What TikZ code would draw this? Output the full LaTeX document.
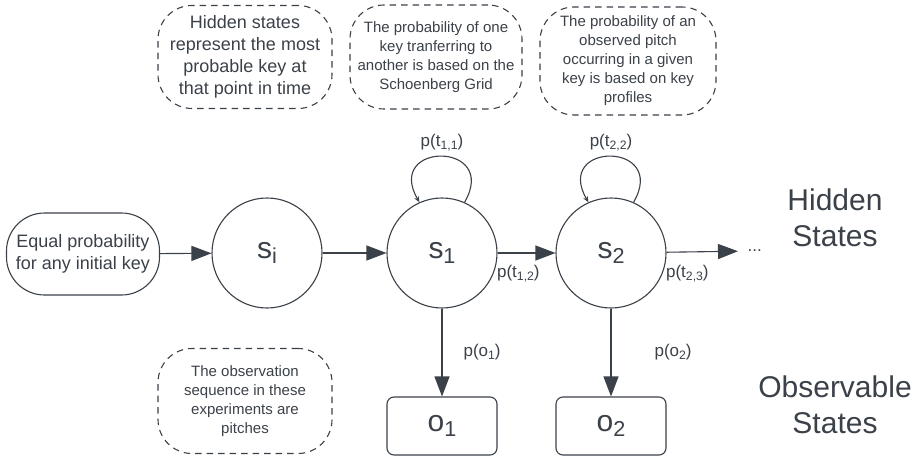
\documentclass[tikz,border=0pt]{standalone}
\usepackage{fontspec}
\setmainfont{Liberation Sans}
\usetikzlibrary{arrows.meta,positioning}
\definecolor{ink}{HTML}{3B4149}
\newcommand{\idx}[1]{\raisebox{-0.16em}{\scalebox{0.72}{#1}}}

\begin{document}
\begin{tikzpicture}[x=1pt, y=1pt, draw=ink, text=ink, line width=1.1pt,
  note/.style={draw, dash pattern=on 6.5pt off 5pt, rounded corners=34pt, align=center, inner sep=0pt},
  state/.style={draw, circle, minimum size=110pt, inner sep=0pt, font=\fontsize{30}{30}\selectfont},
  obs/.style={draw, rounded corners=7pt, minimum width=110pt, minimum height=58pt, inner sep=0pt, font=\fontsize{30}{30}\selectfont},
  lbl/.style={font=\fontsize{17}{17}\selectfont, inner sep=1pt},
  side/.style={align=center, font=\fontsize{30}{36}\selectfont},
  arr/.style={-{Triangle[length=20pt, width=15pt]}, fill=ink},
  loop/.style={-{Stealth[length=6pt, width=5pt]}}]
  \useasboundingbox (0,0) rectangle (920,456);

  % notes
  \node[note, minimum width=174pt, minimum height=103pt, font=\fontsize{18}{22}\selectfont] (hidnote) at (245,399)
    {Hidden states\\represent the most\\probable key at\\that point in time};
  \node[note, minimum width=172pt, minimum height=104pt, font=\fontsize{15}{19}\selectfont] (transnote) at (436,399)
    {The probability of one\\key tranferring to\\another is based on the\\Schoenberg Grid};
  \node[note, minimum width=176pt, minimum height=108pt, font=\fontsize{15}{19}\selectfont] (emitnote) at (628,395)
    {The probability of an\\observed pitch\\occurring in a given\\key is based on key\\profiles};
  \node[note, minimum width=174pt, minimum height=105pt, font=\fontsize{15}{19}\selectfont] (obsnote) at (245,55)
    {The observation\\sequence in these\\experiments are\\pitches};

  % states
  \node[draw, rounded corners=38pt, minimum width=153pt, minimum height=82pt, inner sep=0pt, align=center,
    font=\fontsize{18}{22}\selectfont] (init) at (83,202) {Equal probability\\for any initial key};
  \node[state] (si) at (267,203) {s\idx{i}};
  \node[state] (s1) at (442,203) {s\idx{1}};
  \node[state] (s2) at (611,203) {s\idx{2}};
  \node[lbl, anchor=west, inner xsep=9pt] (dots) at (738,205) {...};
  \node[obs] (o1) at (442,30) {o\idx{1}};
  \node[obs] (o2) at (611,30) {o\idx{2}};

  \node[side] (hidden) at (835,238) {Hidden\\States};
  \node[side] (observable) at (835,51) {Observable\\States};

  % transitions
  \path[arr]
    (init) edge (si)
    (si) edge (s1)
    (s1) edge (s2)
    (s2) edge (dots)
    (s1) edge node[lbl, right=20pt] {p(o\idx{1})} (o1)
    (s2) edge node[lbl, right=42pt] {p(o\idx{2})} (o2);
  \draw[loop] (s1.66) to[out=60, in=120, looseness=4] (s1.114);
  \draw[loop] (s2.66) to[out=60, in=120, looseness=4] (s2.114);

  \node[lbl, above=45pt of s1.north] (t11) {p(t\idx{1,1})};
  \node[lbl, above=45pt of s2.north] (t22) {p(t\idx{2,2})};
  \node[lbl, below right=11pt and -2pt of s1.east] (t12) {p(t\idx{1,2})};
  \node[lbl, below right=11pt and -2pt of s2.east] (t23) {p(t\idx{2,3})};
\end{tikzpicture}
\end{document}
